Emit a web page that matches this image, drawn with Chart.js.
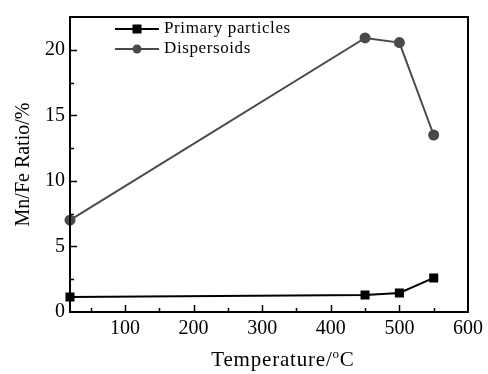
<!DOCTYPE html>
<html>
<head>
<meta charset="utf-8">
<script src="https://cdn.jsdelivr.net/npm/chart.js@4/dist/chart.umd.min.js"></script>
<style>
  html, body { margin: 0; padding: 0; background: #fff; }
  #wrap { width: 488px; height: 374px; position: relative; }
</style>
</head>
<body>
<div id="wrap"><canvas id="c"></canvas></div>
<script>
// data
const temperatures = [20, 450, 500, 550];
const primaryParticles = [1.15, 1.3, 1.45, 2.6];
const dispersoids = [7.0, 20.9, 20.55, 13.5];
const xTicks = [100, 200, 300, 400, 500, 600];
const xMinorTicks = [50, 150, 250, 350, 450, 550];
const yTicks = [0, 5, 10, 15, 20];
const yMinorTicks = [2.5, 7.5, 12.5, 17.5];

const FONT = "'Liberation Serif', 'Times New Roman', serif";

// frame + inward ticks + legend inside the plot + x title with superscript
const framePlugin = {
  id: 'frame',
  afterDraw(chart) {
    const { ctx, chartArea: a, scales } = chart;
    const x = scales.x, y = scales.y;
    ctx.save();
    ctx.strokeStyle = '#000';
    ctx.lineWidth = 2;
    ctx.strokeRect(a.left, a.top, a.right - a.left, a.bottom - a.top);

    ctx.lineWidth = 1.5;
    ctx.beginPath();
    xTicks.forEach(v => {
      const px = Math.round(x.getPixelForValue(v)) + 0.5;
      if (px < a.right - 2) { ctx.moveTo(px, a.bottom); ctx.lineTo(px, a.bottom - 7); }
    });
    xMinorTicks.forEach(v => {
      const px = Math.round(x.getPixelForValue(v)) + 0.5;
      ctx.moveTo(px, a.bottom); ctx.lineTo(px, a.bottom - 4);
    });
    yTicks.forEach(v => {
      const py = Math.round(y.getPixelForValue(v)) + 0.5;
      if (py < a.bottom - 2) { ctx.moveTo(a.left, py); ctx.lineTo(a.left + 7, py); }
    });
    yMinorTicks.forEach(v => {
      const py = Math.round(y.getPixelForValue(v)) + 0.5;
      ctx.moveTo(a.left, py); ctx.lineTo(a.left + 4, py);
    });
    ctx.stroke();

    // legend
    const rows = [
      { ds: chart.data.datasets[0], y: 29 },
      { ds: chart.data.datasets[1], y: 49 }
    ];
    rows.forEach(r => {
      ctx.strokeStyle = r.ds.borderColor;
      ctx.fillStyle = r.ds.pointBackgroundColor;
      ctx.lineWidth = r.ds.borderWidth;
      ctx.beginPath();
      ctx.moveTo(115, r.y); ctx.lineTo(159, r.y);
      ctx.stroke();
      if (r.ds.pointStyle === 'rect') {
        ctx.fillRect(137 - 4.5, r.y - 4.5, 9, 9);
      } else {
        ctx.beginPath();
        ctx.arc(137, r.y, 4.5, 0, Math.PI * 2);
        ctx.fill();
      }
      ctx.fillStyle = '#000';
      ctx.font = '17px ' + FONT;
      ctx.letterSpacing = '0.6px';
      ctx.textBaseline = 'middle';
      ctx.textAlign = 'left';
      ctx.fillText(r.ds.label, 164, r.y);
    });

    // x axis title: Temperature/°C with a raised small o
    ctx.fillStyle = '#000';
    ctx.textBaseline = 'alphabetic';
    ctx.textAlign = 'left';
    ctx.letterSpacing = '0.8px';
    ctx.font = '21px ' + FONT;
    const t1 = 'Temperature/', t3 = 'C';
    const w1 = ctx.measureText(t1).width;
    const w3 = ctx.measureText(t3).width;
    ctx.font = '13px ' + FONT;
    const w2 = ctx.measureText('o').width;
    const total = w1 + w2 + w3;
    const x0 = (a.left + a.right) / 2 + 14 - total / 2;
    const base = 366;
    ctx.font = '21px ' + FONT;
    ctx.fillText(t1, x0, base);
    ctx.font = '13px ' + FONT;
    ctx.fillText('o', x0 + w1, base - 8);
    ctx.font = '21px ' + FONT;
    ctx.fillText(t3, x0 + w1 + w2, base);
    ctx.restore();
  }
};

new Chart(document.getElementById('c'), {
  type: 'line',
  data: {
    datasets: [
      {
        label: 'Primary particles',
        data: temperatures.map((t, i) => ({ x: t, y: primaryParticles[i] })),
        borderColor: '#000',
        backgroundColor: '#000',
        pointBackgroundColor: '#000',
        pointBorderColor: '#000',
        pointStyle: 'rect',
        pointRadius: 5,
        borderWidth: 2,
        tension: 0,
        clip: false
      },
      {
        label: 'Dispersoids',
        data: temperatures.map((t, i) => ({ x: t, y: dispersoids[i] })),
        borderColor: '#4a4a4a',
        backgroundColor: '#4a4a4a',
        pointBackgroundColor: '#4a4a4a',
        pointBorderColor: '#4a4a4a',
        pointStyle: 'circle',
        pointRadius: 4.5,
        borderWidth: 2,
        tension: 0,
        clip: false
      }
    ]
  },
  options: {
    responsive: true,
    maintainAspectRatio: false,
    animation: false,
    layout: { padding: { top: 9, right: 20, left: 12, bottom: 0 } },
    plugins: { legend: { display: false }, tooltip: { enabled: false } },
    scales: {
      x: {
        type: 'linear',
        min: 20,
        max: 600,
        afterBuildTicks: s => { s.ticks = xTicks.map(v => ({ value: v })); },
        afterFit: s => { s.height = 62; },
        grid: { display: false, drawTicks: false },
        border: { display: false },
        ticks: { color: '#000', font: { family: FONT, size: 20 }, padding: 5, maxRotation: 0 }
      },
      y: {
        type: 'linear',
        min: 0,
        max: 22.5,
        afterBuildTicks: s => { s.ticks = yTicks.map(v => ({ value: v })); },
        afterFit: s => { s.width = 58; },
        grid: { display: false, drawTicks: false },
        border: { display: false },
        ticks: { color: '#000', font: { family: FONT, size: 20 }, padding: 5 },
        title: {
          display: true,
          text: 'Mn/Fe Ratio/%',
          color: '#000',
          font: { family: FONT, size: 20 },
          padding: { top: 0, bottom: 2 }
        }
      }
    }
  },
  plugins: [framePlugin]
});
</script>
</body>
</html>
